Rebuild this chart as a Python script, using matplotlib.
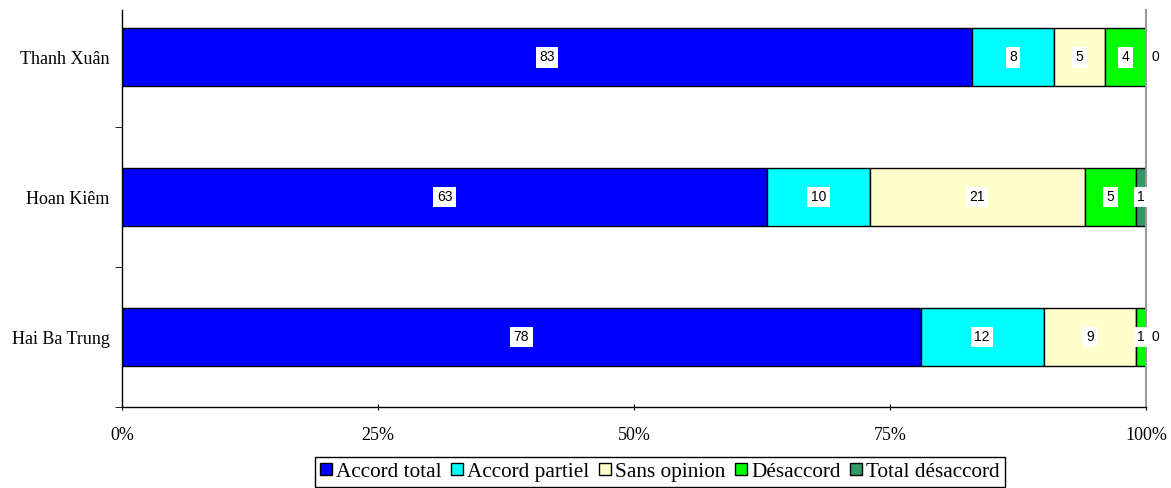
import numpy as np
import matplotlib
matplotlib.use('Agg')
import matplotlib.pyplot as plt

# data (percent)
districts = ['Thanh Xuân', 'Hoan Kiêm', 'Hai Ba Trung']
accord_total = [83, 63, 78]
accord_partiel = [8, 10, 12]
sans_opinion = [5, 21, 9]
desaccord = [4, 5, 1]
total_desaccord = [0, 1, 0]

series_names = ['Accord total', 'Accord partiel', 'Sans opinion', 'Désaccord', 'Total désaccord']
series_colors = ['#0000FF', '#00FFFF', '#FFFFCC', '#00FF00', '#339966']
series_values = [accord_total, accord_partiel, sans_opinion, desaccord, total_desaccord]
xtick_labels = ['0%', '25%', '50%', '75%', '100%']

fig = plt.figure(figsize=(11.71, 4.88), dpi=100)
ax = fig.add_axes([0.1042, 0.166, 0.8745, 0.8135])

y = np.arange(len(districts))
left = np.zeros(len(districts))
for name, col, vals in zip(series_names, series_colors, series_values):
    vals = np.array(vals, dtype=float)
    ax.barh(y, vals, left=left, height=0.41, color=col, edgecolor='black',
            linewidth=1.0, label=name)
    for yi, l, v in zip(y, left, vals):
        if v == 0:
            # zero segments: label sits just right of the bar end
            ax.text(l + v + 0.5, yi, '0', ha='left', va='center',
                    fontsize=10, family='Liberation Sans')
        else:
            ax.text(l + v / 2, yi, str(int(v)), ha='center', va='center',
                    fontsize=10, family='Liberation Sans',
                    bbox=dict(facecolor='white', edgecolor='none', pad=2.5))
    left += vals

ax.set_xlim(0, 100)
ax.set_ylim(2.5, -0.336)
ax.set_xticks([0, 25, 50, 75, 100])
ax.set_xticklabels(xtick_labels, family='Liberation Serif', fontsize=13)
ax.set_yticks(y)
ax.set_yticklabels(districts, family='Liberation Serif', fontsize=13)
ax.tick_params(axis='y', length=0, pad=9)
ax.set_yticks([0.5, 1.5, 2.5], minor=True)
ax.tick_params(axis='y', which='minor', length=5, direction='out')
ax.tick_params(axis='x', length=5, direction='inout', pad=12)

ax.spines['top'].set_visible(False)
ax.spines['right'].set_color('#999999')
ax.spines['right'].set_linewidth(1.5)
ax.spines['left'].set_linewidth(1.0)
ax.spines['bottom'].set_linewidth(1.0)

leg = fig.legend(loc='upper center', bbox_to_anchor=(0.5636, 0.063), ncol=5,
                 prop={'family': 'Liberation Serif', 'size': 15.3},
                 handlelength=0.55, handleheight=0.55, handletextpad=0.2,
                 columnspacing=0.45, borderpad=0.25, borderaxespad=0,
                 fancybox=False, edgecolor='black', framealpha=1)
leg.get_frame().set_linewidth(1.0)

plt.savefig('out.png', dpi=100)
